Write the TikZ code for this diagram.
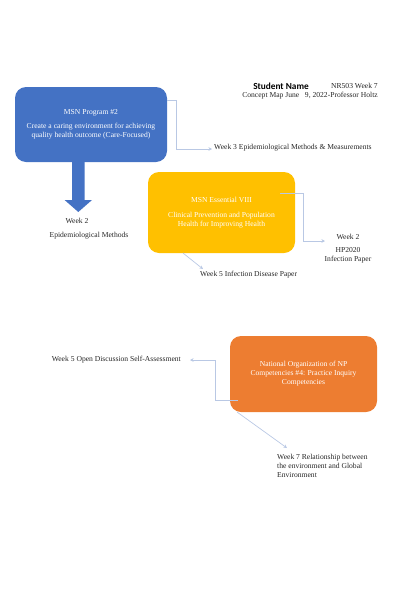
\documentclass[tikz,border=0pt]{standalone}
\usepackage{fontspec}
\setmainfont{Liberation Serif}
\newfontfamily\carlito{Carlito}
\usetikzlibrary{arrows.meta,calc}
\definecolor{blueC}{HTML}{4472C4}
\definecolor{yellowC}{HTML}{FFC000}
\definecolor{orangeC}{HTML}{ED7D31}
\definecolor{connC}{RGB}{185,200,228}
\tikzset{
  box/.style={rounded corners=11pt, draw=none, text=white, align=center,
    font=\fontsize{7.6}{9}\selectfont, inner sep=0pt},
  lbl/.style={font=\fontsize{7.6}{9}\selectfont, inner sep=0pt, text=black!85},
  conn/.style={draw=connC, line width=0.7pt, -{Stealth[length=3.5pt,width=3.5pt]}}
}
\begin{document}
\begin{tikzpicture}[x=1pt,y=-1pt]
\useasboundingbox (0,0) rectangle (400,600);
% title
\node[inner sep=0pt, font=\carlito\bfseries\fontsize{9.3}{10}\selectfont] (sname) at (281,86) {Student Name};
\node[lbl, anchor=east] (nr) at (378,86) {NR503 Week 7};
\node[lbl, anchor=east] (cm) at (378,95.5) {Concept Map June \ \ 9, 2022-Professor Holtz};
% boxes
\node[box, fill=blueC, minimum width=152, minimum height=75] (msn) at (91,124.5)
  {MSN Program \#2\\[5.5pt] Create a caring environment for achieving\\ quality health outcome (Care-Focused)};
\node[box, fill=yellowC, minimum width=147, minimum height=81] (ess) at (221.5,212.5)
  {MSN Essential VIII\\[6pt] Clinical Prevention and Population\\ Health for Improving Health};
\node[box, fill=orangeC, minimum width=147, minimum height=76] (nonpf) at (303.5,374)
  {National Organization of NP\\ Competencies \#4: Practice Inquiry\\ Competencies};
% block arrow
\fill[blueC] (72,162) -- (84.5,162) -- (84.5,200) -- (92,200) -- (78.3,212) -- (64.6,200) -- (72,200) -- cycle;
% labels
\node[lbl, anchor=west] (w3) at (214,148) {Week 3 Epidemiological Methods \& Measurements};
\node[lbl] (w2a) at (77,221) {Week 2};
\node[lbl] (epi) at (89,236) {Epidemiological Methods};
\node[lbl, align=center] (hp) at (348,248.5) {Week 2\\[4pt] HP2020\\ Infection Paper};
\node[lbl, anchor=west] (w5) at (200,275) {Week 5 Infection Disease Paper};
\node[lbl, anchor=east] (w5o) at (181,360) {Week 5 Open Discussion Self-Assessment};
\node[lbl, anchor=north west, align=left] (w7) at (277,454) {Week 7 Relationship between\\ the environment and Global\\ Environment};
% connectors
\draw[conn] (msn.east |- 0,100) -- (176,100) -- (176,149) -- ($(w3.west)+(-2,1)$);
\draw[conn] (280,193) -- (303,193) -- (303,241) -- (325,241);
\draw[conn] (183,253) -- (203,269);
\draw[conn] (nonpf.west |- 0,400) ++(8,0) -- (215,400) -- (215,360) -- ($(w5o.east)+(9,0)$);
\draw[conn] (237,412) -- (287,448);
\end{tikzpicture}
\end{document}
